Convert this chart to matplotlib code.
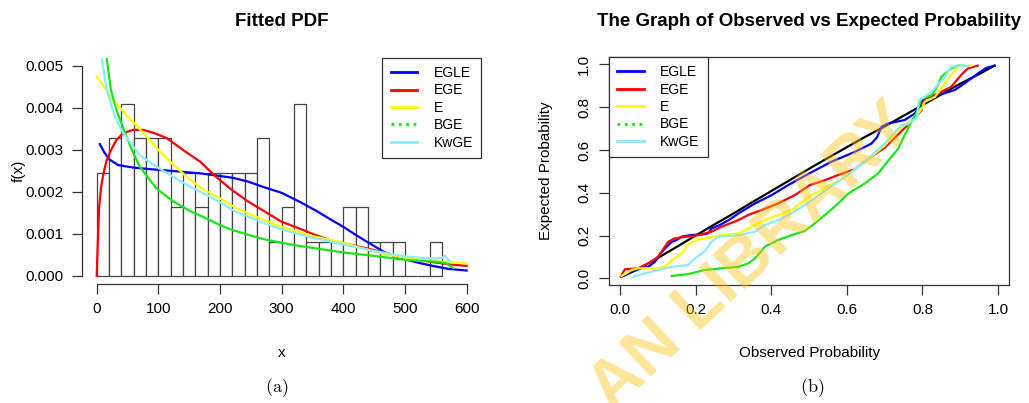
import matplotlib
matplotlib.use("Agg")
import matplotlib.pyplot as plt
from matplotlib.lines import Line2D

plt.rcParams['font.family'] = ['Liberation Sans', 'DejaVu Sans']
plt.rcParams['mathtext.fontset'] = 'cm'

# histogram of the data (density per 20-unit bin, 0..560)
bin_edges = [0, 20, 40, 60, 80, 100, 120, 140, 160, 180, 200, 220, 240, 260, 280,
             300, 320, 340, 360, 380, 400, 420, 440, 460, 480, 500, 520, 540, 560]
hist_density = [0.00246, 0.00328, 0.00410, 0.00328, 0.00328, 0.00328, 0.00164,
                0.00246, 0.00164, 0.00246, 0.00246, 0.00246, 0.00246, 0.00328,
                0.00082, 0.00164, 0.00410, 0.00082, 0.00082, 0.00082, 0.00164,
                0.00164, 0.00082, 0.00082, 0.00082, 0.0, 0.0, 0.00082]

# fitted densities (y in units of 1e-3)
egle_x = [5, 12, 20, 35, 60, 90, 115, 140, 170, 195, 220, 245, 270, 300, 330, 355,
          380, 400, 420, 440, 465, 490, 520, 545, 570, 600]
egle_y = [3.14, 2.95, 2.78, 2.64, 2.58, 2.54, 2.51, 2.48, 2.44, 2.39, 2.34, 2.25,
          2.12, 1.98, 1.76, 1.56, 1.34, 1.17, 0.98, 0.80, 0.58, 0.44, 0.32, 0.24,
          0.17, 0.13]
ege_x = [0, 1, 2.5, 4, 7, 11, 16, 22, 32, 43, 59, 75, 92, 114, 140, 168, 192, 219,
         246, 273, 300, 327, 354, 381, 400, 422, 449, 480, 510, 540, 570, 600]
ege_y = [0.0, 0.46, 1.10, 1.65, 2.10, 2.44, 2.75, 2.96, 3.24, 3.40, 3.48, 3.48,
         3.41, 3.28, 3.00, 2.72, 2.38, 2.05, 1.77, 1.53, 1.29, 1.14, 0.98, 0.84,
         0.78, 0.71, 0.62, 0.50, 0.41, 0.34, 0.28, 0.24]
e_x = [0, 25, 50, 75, 100, 125, 150, 175, 200, 225, 250, 275, 300, 350, 400, 450,
       500, 550, 600]
e_y = [4.75, 4.22, 3.80, 3.42, 3.00, 2.64, 2.31, 2.04, 1.85, 1.63, 1.46, 1.31,
       1.17, 0.95, 0.79, 0.58, 0.43, 0.35, 0.30]
bge_x = [15, 16, 23, 32, 43, 57, 70, 97, 124, 151, 178, 200, 219, 246, 273, 300,
         327, 354, 400, 449, 503, 551, 567, 578]
bge_y = [5.40, 5.20, 4.43, 3.95, 3.52, 3.00, 2.60, 2.08, 1.78, 1.55, 1.37, 1.21,
         1.10, 0.98, 0.87, 0.79, 0.72, 0.66, 0.56, 0.48, 0.38, 0.34, 0.30, 0.19]
kwge_x = [6, 8, 16, 22, 30, 43, 70, 97, 124, 151, 178, 200, 219, 246, 273, 300,
          327, 354, 400, 449, 503, 540, 551, 560, 565, 569, 573]
kwge_y = [5.60, 5.20, 4.45, 4.15, 3.78, 3.40, 2.88, 2.60, 2.36, 2.13, 1.93, 1.76,
          1.58, 1.41, 1.25, 1.11, 1.00, 0.90, 0.75, 0.60, 0.46, 0.42, 0.42, 0.43,
          0.48, 0.40, 0.34]

# observed vs expected probabilities
obs_x = [0.005, 0.05, 0.1, 0.15, 0.2, 0.25, 0.3, 0.35, 0.4, 0.45, 0.5, 0.55, 0.6,
         0.65, 0.7, 0.75, 0.8, 0.85, 0.9, 0.95, 0.99]
obs_y = [0.008, 0.045, 0.095, 0.147, 0.2, 0.252, 0.303, 0.356, 0.408, 0.46, 0.512,
         0.563, 0.613, 0.663, 0.71, 0.76, 0.81, 0.86, 0.91, 0.955, 0.994]
pp_egle_x = [0.003, 0.03, 0.06, 0.075, 0.093, 0.105, 0.115, 0.137, 0.15, 0.163,
             0.19, 0.216, 0.233, 0.242, 0.264, 0.29, 0.313, 0.357, 0.401, 0.445,
             0.49, 0.5, 0.559, 0.621, 0.665, 0.68, 0.692, 0.709, 0.753, 0.78,
             0.79, 0.802, 0.841, 0.885, 0.911, 0.947, 0.969, 0.991]
pp_egle_y = [0.008, 0.03, 0.05, 0.054, 0.078, 0.11, 0.132, 0.171, 0.179, 0.195,
             0.203, 0.205, 0.21, 0.233, 0.249, 0.275, 0.303, 0.35, 0.389, 0.436,
             0.48, 0.49, 0.545, 0.591, 0.63, 0.66, 0.709, 0.724, 0.74, 0.771,
             0.8, 0.84, 0.856, 0.88, 0.911, 0.958, 0.984, 0.994]
pp_ege_x = [0.003, 0.013, 0.048, 0.075, 0.101, 0.119, 0.128, 0.145, 0.172, 0.207,
            0.242, 0.268, 0.313, 0.339, 0.374, 0.418, 0.462, 0.489, 0.502, 0.542,
            0.577, 0.621, 0.665, 0.7, 0.74, 0.78, 0.797, 0.806, 0.841, 0.876,
            0.902, 0.92, 0.946]
pp_ege_y = [0.011, 0.042, 0.047, 0.07, 0.101, 0.148, 0.171, 0.187, 0.194, 0.202,
            0.218, 0.241, 0.272, 0.296, 0.319, 0.35, 0.389, 0.42, 0.436, 0.459,
            0.483, 0.51, 0.57, 0.61, 0.68, 0.75, 0.786, 0.84, 0.864, 0.895,
            0.95, 0.981, 0.994]
pp_e_x = [0.004, 0.031, 0.048, 0.093, 0.119, 0.137, 0.163, 0.18, 0.198, 0.224,
          0.268, 0.313, 0.348, 0.383, 0.418, 0.454, 0.489, 0.502, 0.55, 0.6,
          0.65, 0.7, 0.74, 0.78, 0.8, 0.806, 0.833, 0.859, 0.876, 0.894, 0.929]
pp_e_y = [0.011, 0.039, 0.047, 0.047, 0.054, 0.085, 0.117, 0.156, 0.179, 0.187,
          0.202, 0.21, 0.241, 0.272, 0.296, 0.319, 0.366, 0.384, 0.43, 0.48,
          0.55, 0.62, 0.7, 0.75, 0.8, 0.825, 0.848, 0.911, 0.95, 0.989, 0.994]
pp_bge_x = [0.137, 0.18, 0.224, 0.268, 0.313, 0.339, 0.355, 0.365, 0.383, 0.418,
            0.454, 0.489, 0.515, 0.542, 0.577, 0.604, 0.648, 0.683, 0.7, 0.736,
            0.753, 0.771, 0.788, 0.797, 0.824, 0.841, 0.85, 0.876, 0.894, 0.911]
pp_bge_y = [0.011, 0.02, 0.039, 0.047, 0.054, 0.07, 0.09, 0.109, 0.148, 0.179,
            0.202, 0.222, 0.257, 0.296, 0.35, 0.397, 0.444, 0.491, 0.529, 0.607,
            0.67, 0.732, 0.786, 0.84, 0.856, 0.903, 0.942, 0.981, 0.994, 0.994]
pp_kwge_x = [0.035, 0.066, 0.101, 0.137, 0.18, 0.198, 0.224, 0.242, 0.26, 0.313,
             0.357, 0.383, 0.418, 0.454, 0.489, 0.502, 0.55, 0.6, 0.65, 0.7,
             0.72, 0.745, 0.76, 0.785, 0.79, 0.824, 0.859, 0.876, 0.92]
pp_kwge_y = [0.008, 0.023, 0.039, 0.054, 0.062, 0.093, 0.125, 0.171, 0.195, 0.202,
             0.218, 0.249, 0.272, 0.304, 0.343, 0.358, 0.42, 0.48, 0.55, 0.63,
             0.67, 0.716, 0.72, 0.75, 0.83, 0.872, 0.942, 0.989, 0.994]

model_names = ['EGLE', 'EGE', 'E', 'BGE', 'KwGE']
model_colors = ['#0000ff', '#ff0000', '#ffff00', '#19e619', '#88eeff']
model_styles = ['-', '-', '-', ':', '-']

axis_col = '#333333'

fig = plt.figure(figsize=(10.29, 4.03), dpi=100)
ax1 = fig.add_axes([0.0796, 0.2943, 0.3883, 0.5628])
ax2 = fig.add_axes([0.5918, 0.2928, 0.3892, 0.5665])

# --- left: histogram with fitted densities
widths = [b - a for a, b in zip(bin_edges[:-1], bin_edges[1:])]
ax1.bar(bin_edges[:-1], hist_density, width=widths, align='edge',
        facecolor='white', edgecolor='#444444', linewidth=0.9)
curves = [(egle_x, egle_y), (ege_x, ege_y), (e_x, e_y), (bge_x, bge_y), (kwge_x, kwge_y)]
for (cx, cy), col in zip(curves, model_colors):
    ax1.plot(cx, [v / 1000 for v in cy], color=col, lw=1.6)

ax1.set_xlim(-24, 624)
ax1.set_ylim(-0.0002, 0.0052)
ax1.set_xticks([0, 100, 200, 300, 400, 500, 600])
ax1.set_yticks([0, 0.001, 0.002, 0.003, 0.004, 0.005])
ax1.set_yticklabels(['0.000', '0.001', '0.002', '0.003', '0.004', '0.005'])
for side in ['top', 'right']:
    ax1.spines[side].set_visible(False)
ax1.spines['left'].set_bounds(0, 0.005)
ax1.spines['bottom'].set_bounds(0, 600)
ax1.set_title('Fitted PDF', fontsize=13.5, fontweight='bold', pad=22.5)
ax1.set_xlabel('x', fontsize=11)
ax1.xaxis.label.set_va('center')
ax1.xaxis.set_label_coords(0.5, -0.301)
ax1.set_ylabel('f(x)', fontsize=11)
ax1.yaxis.label.set_va('center')
ax1.yaxis.set_label_coords(-0.159, 0.5)

# --- right: P-P plot
ax2.plot(obs_x, obs_y, color='black', lw=1.6)
pp_curves = [(pp_egle_x, pp_egle_y), (pp_ege_x, pp_ege_y), (pp_e_x, pp_e_y),
             (pp_bge_x, pp_bge_y), (pp_kwge_x, pp_kwge_y)]
for (cx, cy), col in zip(pp_curves, model_colors):
    ax2.plot(cx, cy, color=col, lw=1.6)

ax2.set_xlim(-0.029, 1.03)
ax2.set_ylim(-0.031, 1.036)
ax2.set_xticks([0, 0.2, 0.4, 0.6, 0.8, 1.0])
ax2.set_yticks([0, 0.2, 0.4, 0.6, 0.8, 1.0])
ax2.set_xticklabels(['0.0', '0.2', '0.4', '0.6', '0.8', '1.0'])
ax2.set_yticklabels(['0.0', '0.2', '0.4', '0.6', '0.8', '1.0'], rotation=90, va='center')
ax2.set_title('The Graph of Observed vs Expected Probability', fontsize=13.5,
              fontweight='bold', pad=22)
ax2.set_xlabel('Observed Probability', fontsize=11)
ax2.xaxis.label.set_va('center')
ax2.xaxis.set_label_coords(0.5, -0.2965)
ax2.set_ylabel('Expected Probability', fontsize=11)
ax2.yaxis.label.set_va('center')
ax2.yaxis.set_label_coords(-0.157, 0.5)

for ax in (ax1, ax2):
    ax.tick_params(direction='out', length=7, width=0.9, color=axis_col,
                   labelsize=11, pad=6)
    for sp in ax.spines.values():
        sp.set_color(axis_col)
        sp.set_linewidth(0.9)

handles = [Line2D([], [], color=c, lw=2, ls=s) for c, s in zip(model_colors, model_styles)]
leg_kw = dict(fontsize=10, frameon=True, fancybox=False, framealpha=1,
              edgecolor=axis_col, borderaxespad=0, handlelength=1.9,
              handletextpad=1.2, labelspacing=0.25, borderpad=0.6)
leg1 = ax1.legend(handles, model_names, loc='upper right', bbox_to_anchor=(1, 1), **leg_kw)
leg2 = ax2.legend(handles, model_names, loc='upper left', bbox_to_anchor=(0, 1), **leg_kw)
for leg in (leg1, leg2):
    leg.get_frame().set_linewidth(0.9)

fig.text(277 / 1029, 1 - 388 / 403, r'$\mathrm{(a)}$', fontsize=13, ha='center', va='center')
fig.text(812 / 1029, 1 - 388 / 403, r'$\mathrm{(b)}$', fontsize=13, ha='center', va='center')

# library stamp across the right panel
fig.text(752 / 1029, 1 - 258 / 403, 'AN LIBRARY', fontsize=49, fontweight='bold',
         color='#ffc20e', alpha=0.42, rotation=43, ha='center', va='center',
         rotation_mode='anchor', zorder=10)

fig.savefig('out.png', dpi=100)
